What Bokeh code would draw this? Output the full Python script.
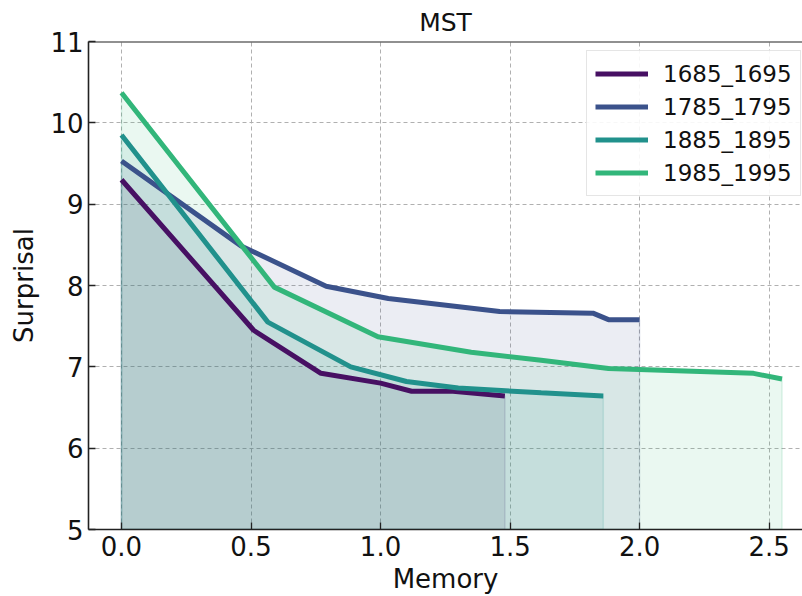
from bokeh.plotting import figure
from bokeh.models import Range1d, FixedTicker, Span, Legend, LegendItem, PrintfTickFormatter
from bokeh.embed import file_html
from bokeh.resources import INLINE

labels = ["1685_1695", "1785_1795", "1885_1895", "1985_1995"]
colors = ["#471063", "#3b528b", "#21918c", "#32b67a"]

mem_1685 = [0.0, 0.51, 0.77, 1.0, 1.12, 1.28, 1.48]
sur_1685 = [9.30, 7.45, 6.92, 6.80, 6.70, 6.70, 6.64]
mem_1785 = [0.0, 0.46, 0.79, 1.03, 1.46, 1.82, 1.88, 2.0]
sur_1785 = [9.53, 8.49, 7.99, 7.84, 7.68, 7.66, 7.58, 7.58]
mem_1885 = [0.0, 0.565, 0.885, 1.10, 1.30, 1.62, 1.86]
sur_1885 = [9.85, 7.55, 7.00, 6.82, 6.74, 6.68, 6.64]
mem_1985 = [0.0, 0.59, 0.99, 1.35, 1.62, 1.88, 2.44, 2.55]
sur_1985 = [10.37, 7.98, 7.37, 7.18, 7.08, 6.98, 6.92, 6.85]

series = [(mem_1685, sur_1685), (mem_1785, sur_1785),
          (mem_1885, sur_1885), (mem_1985, sur_1985)]

x_ticks = [0.0, 0.5, 1.0, 1.5, 2.0, 2.5]
y_ticks = [5, 6, 7, 8, 9, 10, 11]
y_min, y_max = 5, 11

FONT = "DejaVu Sans"

p = figure(width=802, height=596, output_backend="svg", toolbar_location=None,
           x_range=Range1d(-0.1274, 2.629), y_range=Range1d(y_min, y_max),
           min_border_left=88, min_border_right=0, min_border_top=0,
           min_border_bottom=66)
p.outline_line_color = None
p.background_fill_color = "white"
p.border_fill_color = "white"

p.title.text = "MST"
p.title.align = "center"
p.title.text_font = FONT
p.title.text_font_size = "25px"
p.title.text_font_style = "normal"
p.title.text_color = "#111111"
p.title.standoff = 10

for ax in (p.xaxis[0], p.yaxis[0]):
    ax.axis_line_color = "#222222"
    ax.axis_line_width = 1.6
    ax.major_tick_in = 7
    ax.major_tick_out = 0
    ax.minor_tick_line_color = None
    ax.major_tick_line_color = "#222222"
    ax.major_tick_line_width = 1.3
    ax.major_label_text_font = FONT
    ax.major_label_text_font_size = "26px"
    ax.major_label_text_color = "#111111"
    ax.axis_label_text_font = FONT
    ax.axis_label_text_font_size = "26px"
    ax.axis_label_text_font_style = "normal"
    ax.axis_label_text_color = "#111111"

p.xaxis.ticker = FixedTicker(ticks=x_ticks)
p.yaxis.ticker = FixedTicker(ticks=y_ticks)
p.xaxis.formatter = PrintfTickFormatter(format="%.1f")
p.xaxis.axis_label = "Memory"
p.yaxis.axis_label = "Surprisal"
p.xaxis.major_label_standoff = 6
p.yaxis.major_label_standoff = 5
p.xaxis.axis_label_standoff = 5
p.yaxis.axis_label_standoff = 8

for g in (p.xgrid[0], p.ygrid[0]):
    g.grid_line_color = "#b0b0b0"
    g.grid_line_dash = "4 3"
    g.grid_line_width = 1

p.add_layout(Span(location=y_max, dimension="width", line_color="#222222", line_width=2))

# fills (area under each curve)
for (m, s), c in zip(series, colors):
    xs = list(m) + [m[-1], m[0]]
    ys = list(s) + [y_min, y_min]
    p.patch(xs, ys, fill_color=c, fill_alpha=0.1, line_color=c, line_alpha=0.15, line_width=1.5)

items = []
for (m, s), c, lab in zip(series, colors, labels):
    r = p.line(m, s, line_color=c, line_width=5)
    items.append(LegendItem(label=lab, renderers=[r]))

legend = Legend(items=items, location=(498, 333))
legend.label_text_font = FONT
legend.label_text_font_size = "23px"
legend.label_text_color = "#111111"
legend.glyph_width = 53
legend.glyph_height = 29
legend.label_standoff = 15
legend.spacing = 4
legend.padding = 8
legend.margin = 0
legend.border_line_color = "#cccccc"
legend.border_line_width = 1
legend.background_fill_alpha = 0.9
p.add_layout(legend)

open("out.html", "w").write(file_html(p, INLINE))
